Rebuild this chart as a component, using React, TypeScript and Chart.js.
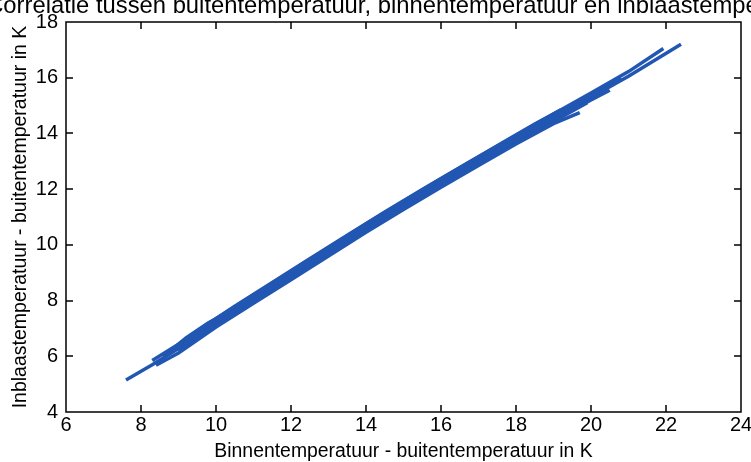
import React, { useEffect, useRef } from "react";
import { Chart, registerables } from "chart.js";

Chart.register(...registerables);

const titleText = "Correlatie tussen buitentemperatuur, binnentemperatuur en inblaastemperatuur";
const xLabel = "Binnentemperatuur - buitentemperatuur in K";
const yLabel = "Inblaastemperatuur - buitentemperatuur in K";

const xMin = 6;
const xMax = 24;
const xStep = 2;
const yMin = 4;
const yMax = 18;
const yStep = 2;

// Strands of the measured band (x = binnen - buiten, y = inblaas - buiten)
const strandAX = [7.6, 8.3, 9, 10, 11, 12, 13, 14, 15, 16, 17, 18, 19, 20, 21, 22.4];
const strandAY = [5.15, 5.7, 6.28, 7.2, 8.05, 8.9, 9.75, 10.6, 11.42, 12.22, 13.0, 13.78, 14.55, 15.3, 16.05, 17.2];

const strandBX = [8.3, 9, 10, 11, 12, 13, 14, 15, 16, 17, 18, 19, 20, 21, 21.93];
const strandBY = [5.85, 6.43, 7.35, 8.2, 9.05, 9.9, 10.75, 11.57, 12.37, 13.15, 13.93, 14.7, 15.45, 16.22, 17.05];

const strandCX = [8.4, 9, 10, 11, 12, 13, 14, 15, 16, 17, 18, 19, 19.7];
const strandCY = [5.68, 6.12, 7.05, 7.9, 8.75, 9.6, 10.45, 11.27, 12.07, 12.85, 13.62, 14.35, 14.75];

const strandDX = [8.8, 10, 11, 12, 13, 14, 15, 16, 17, 18, 19, 20, 20.8];
const strandDY = [6.2, 7.3, 8.15, 9.0, 9.85, 10.7, 11.52, 12.32, 13.1, 13.88, 14.65, 15.42, 16.0];

const strandEX = [9, 10, 11, 12, 13, 14, 15, 16, 17, 18, 19, 20, 20.5];
const strandEY = [6.2, 7.12, 7.97, 8.82, 9.67, 10.52, 11.34, 12.14, 12.92, 13.7, 14.47, 15.2, 15.55];

const strandFX = [8.6, 9.2, 9.8, 10.5, 11.5, 12.5, 13.5, 14.5, 15.5, 16.5, 17.5, 18.5, 19.3];
const strandFY = [5.99, 6.66, 7.2, 7.7, 8.53, 9.38, 10.23, 11.06, 11.87, 12.66, 13.44, 14.22, 14.83];

const strandGX = [9.3, 10, 11, 12, 13, 14, 15, 16, 17, 18, 19, 19.9];
const strandGY = [6.44, 7.08, 7.93, 8.78, 9.63, 10.48, 11.3, 12.1, 12.88, 13.66, 14.43, 15.1];

const strandHX = [9.5, 10.5, 11.5, 12.5, 13.5, 14.5, 15.5, 16.5, 17.5, 18.5, 19.2];
const strandHY = [6.91, 7.8, 8.65, 9.5, 10.35, 11.18, 11.99, 12.78, 13.56, 14.34, 14.85];

const strands: [number[], number[]][] = [
  [strandAX, strandAY],
  [strandBX, strandBY],
  [strandCX, strandCY],
  [strandDX, strandDY],
  [strandEX, strandEY],
  [strandFX, strandFY],
  [strandGX, strandGY],
  [strandHX, strandHY],
];

const lineColor = "#2157b2";
const fontFamily = '"Liberation Sans", Arial, Helvetica, sans-serif';

const boxPlugin = {
  id: "matlabBox",
  afterDraw(chart: any) {
    const { ctx, chartArea, scales } = chart;
    const left = Math.round(chartArea.left);
    const right = Math.round(chartArea.right);
    const top = Math.round(chartArea.top);
    const bottom = Math.round(chartArea.bottom);
    ctx.save();
    ctx.strokeStyle = "#000";
    ctx.lineWidth = 1.5;
    ctx.lineCap = "butt";
    ctx.beginPath();
    ctx.moveTo(left, top);
    ctx.lineTo(right, top);
    ctx.lineTo(right, bottom);
    ctx.lineTo(left, bottom);
    ctx.closePath();
    const tl = 7;
    scales.x.ticks.forEach((t: any) => {
      const px = Math.round(scales.x.getPixelForValue(t.value));
      ctx.moveTo(px, bottom);
      ctx.lineTo(px, bottom - tl);
      ctx.moveTo(px, top);
      ctx.lineTo(px, top + tl);
    });
    scales.y.ticks.forEach((t: any) => {
      const py = Math.round(scales.y.getPixelForValue(t.value));
      ctx.moveTo(left, py);
      ctx.lineTo(left + tl, py);
      ctx.moveTo(right, py);
      ctx.lineTo(right - tl, py);
    });
    ctx.stroke();
    // title (partly outside the page, as in the scan)
    ctx.fillStyle = "#000";
    ctx.font = `23.8px ${fontFamily}`;
    ctx.textAlign = "center";
    ctx.textBaseline = "alphabetic";
    ctx.fillText(titleText, (left + right) / 2, 13);
    ctx.restore();
  },
};

export default function App() {
  const canvasRef = useRef<HTMLCanvasElement | null>(null);

  useEffect(() => {
    document.body.style.margin = "0";
    const canvas = canvasRef.current;
    if (!canvas) return;
    const datasets = strands.map(([xs, ys], i) => ({
      label: `strand ${i + 1}`,
      data: xs.map((x, j) => ({ x, y: ys[j] })),
      showLine: true,
      borderColor: lineColor,
      backgroundColor: lineColor,
      borderWidth: 3.5,
      pointRadius: 0,
      tension: 0,
      fill: false,
    }));
    const chart = new Chart(canvas, {
      type: "scatter",
      data: { datasets },
      options: {
        animation: false,
        responsive: false,
        maintainAspectRatio: false,
        layout: { padding: { top: 22, right: 10, left: 0, bottom: 0 } },
        plugins: {
          legend: { display: false },
          tooltip: { enabled: false },
          title: { display: false },
        },
        scales: {
          x: {
            type: "linear",
            min: xMin,
            max: xMax,
            grid: { display: false, drawTicks: false },
            border: { display: false },
            ticks: {
              stepSize: xStep,
              autoSkip: false,
              maxRotation: 0,
              color: "#000",
              padding: 3,
              font: { family: fontFamily, size: 20, lineHeight: 1 },
            },
            title: {
              display: true,
              text: xLabel,
              color: "#000",
              font: { family: fontFamily, size: 19.4, lineHeight: 1 },
              padding: { top: 0, bottom: 1 },
            },
            afterFit(scale: any) {
              scale.height = 50;
              scale.paddingLeft = 0;
              scale.paddingRight = 0;
            },
          },
          y: {
            type: "linear",
            min: yMin,
            max: yMax,
            grid: { display: false, drawTicks: false },
            border: { display: false },
            ticks: {
              stepSize: yStep,
              autoSkip: false,
              color: "#000",
              padding: 8,
              font: { family: fontFamily, size: 20, lineHeight: 1 },
            },
            title: {
              display: true,
              text: yLabel,
              color: "#000",
              font: { family: fontFamily, size: 19.5, lineHeight: 1 },
              padding: { top: 11, bottom: 0 },
            },
            afterFit(scale: any) {
              scale.width = 66;
              scale.paddingTop = 0;
              scale.paddingBottom = 0;
            },
          },
        },
      },
      plugins: [boxPlugin],
    });
    return () => chart.destroy();
  }, []);

  return (
    <div style={{ width: 751, height: 462, background: "#fff" }}>
      <canvas ref={canvasRef} width={751} height={462} />
    </div>
  );
}
